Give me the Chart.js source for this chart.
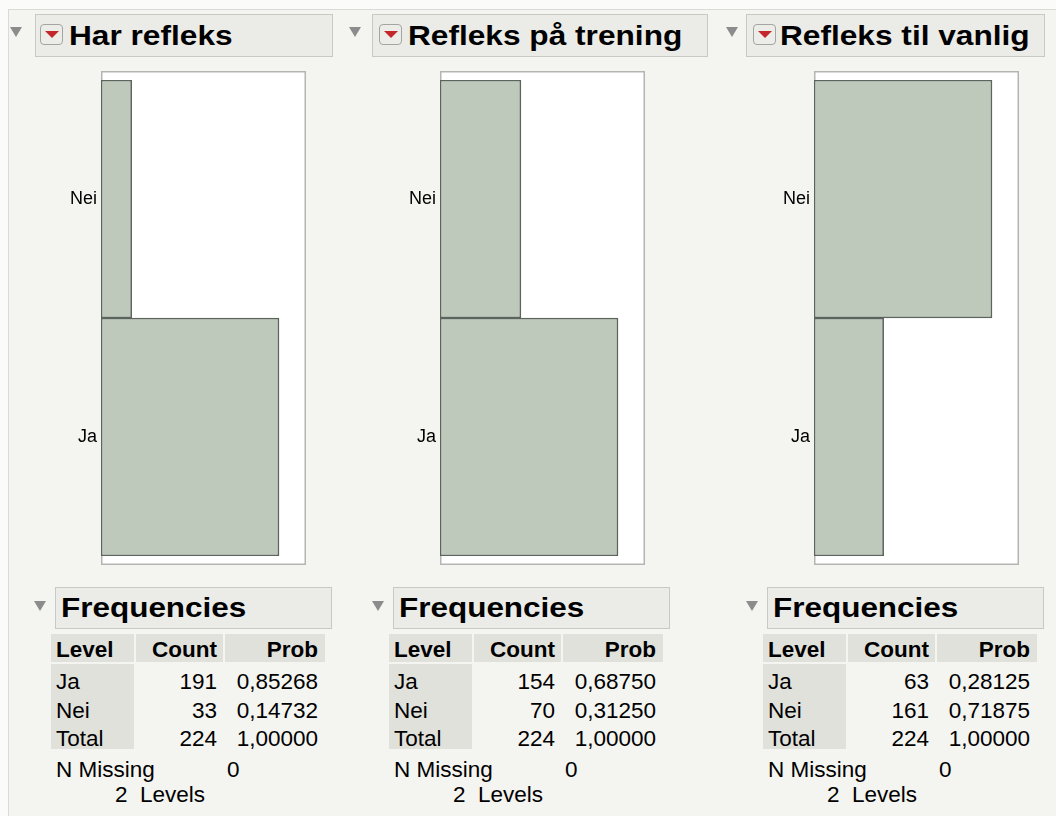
<!DOCTYPE html>
<html>
<head>
<meta charset="utf-8">
<script src="https://cdn.jsdelivr.net/npm/chart.js@4/dist/chart.umd.min.js"></script>
<style>
  html, body { margin: 0; padding: 0; }
  body { width: 1056px; height: 816px; background: #fbfbfa; position: relative; overflow: hidden;
         font-family: "Liberation Sans", Arial, Helvetica, sans-serif; color: #000; }
  .tri { position: absolute; width: 0; height: 0; border-left: 6px solid transparent;
         border-right: 6px solid transparent; border-top: 10px solid #8c8c8c; }
  .hbox { position: absolute; background: #ebebe7; border: 1.5px solid #c9c9c4; box-sizing: border-box; }
  .icon { position: absolute; width: 23px; height: 21px; box-sizing: border-box; border: 1px solid #a4a4a0;
          border-radius: 4px; background: #ecece9; }
  .icon::after { content: ""; position: absolute; left: 3.5px; top: 6px; width: 0; height: 0;
          border-left: 7.5px solid transparent; border-right: 7.5px solid transparent; border-top: 7px solid #c3262b; }
  .cell { position: absolute; background: #e1e1dc; }
  .t { position: absolute; white-space: pre; }
  canvas { position: absolute; }
</style>
</head>
<body>
<script>
// ---------- data ----------
const titles = ['Har refleks', 'Refleks på trening', 'Refleks til vanlig'];
const categories = ['Nei', 'Ja'];              // top to bottom in the bar charts
const harRefleks = [33, 191];                   // Nei, Ja
const refleksTrening = [70, 154];               // Nei, Ja
const refleksVanlig = [161, 63];                // Nei, Ja
const tableLevels = ['Ja', 'Nei', 'Total'];
const tableHeader = ['Level', 'Count', 'Prob'];
const nMissing = [0, 0, 0];
const nLevels = [2, 2, 2];
const seriesList = [harRefleks, refleksTrening, refleksVanlig];

// ---------- layout ----------
const FONT = '"Liberation Sans", Arial, Helvetica, sans-serif';
const ASC = 0.905, DESC = 0.212;
const root = document.body;

function el(cls, style) {
  const d = document.createElement('div');
  d.className = cls;
  Object.assign(d.style, style);
  root.appendChild(d);
  return d;
}
// place text by baseline; align 'left' uses x as left edge, 'right' uses x as right edge
function txt(str, x, baseline, fs, opt = {}) {
  const d = document.createElement('div');
  d.className = 't';
  const lh = (ASC + DESC) * fs;
  d.style.top = (baseline - ASC * fs) + 'px';
  d.style.lineHeight = lh + 'px';
  d.style.fontSize = fs + 'px';
  d.style.fontWeight = opt.bold ? 'bold' : 'normal';
  if (opt.align === 'right') {
    d.style.left = (x - 400) + 'px';
    d.style.width = '400px';
    d.style.textAlign = 'right';
  } else {
    d.style.left = x + 'px';
  }
  if (opt.scaleX) {
    const s = document.createElement('span');
    s.textContent = str;
    s.style.display = 'inline-block';
    s.style.transform = 'scaleX(' + opt.scaleX + ')';
    s.style.transformOrigin = '0 0';
    d.appendChild(s);
  } else {
    d.textContent = str;
  }
  root.appendChild(d);
  return d;
}

el('', {position: 'absolute', left: '8px', top: '9px', right: '0', bottom: '0', background: '#f4f4f0',
        borderLeft: '1px solid #dadad6', borderTop: '1px solid #dadad6'});

const triX = [10, 349, 726];
const boxX = [[35, 333], [372, 708], [746, 1045]];
const iconX = [40, 379, 753];
const titleX = [69, 408, 780];
const frameX = [101, 440, 814];
const tableL = [51, 389, 763];

const FRAME_W = 205, FRAME_TOP = 71, FRAME_H = 494, LABEL_W = 60, PAD = 9;
const AXIS_FACTOR = 205 / 178;

const framePlugin = {
  id: 'frame',
  beforeDatasetsDraw(chart) {
    const a = chart.chartArea, c = chart.ctx;
    c.save();
    c.fillStyle = '#ffffff';
    c.fillRect(a.left, a.top - PAD, a.right - a.left, a.bottom - a.top + 2 * PAD);
    c.strokeStyle = '#b5b5b3';
    c.lineWidth = 1.5;
    c.strokeRect(a.left + 0.75, a.top - PAD + 0.75, a.right - a.left - 1.5, a.bottom - a.top + 2 * PAD - 1.5);
    c.restore();
  }
};

for (let p = 0; p < 3; p++) {
  const data = seriesList[p];
  // title header
  el('tri', {left: triX[p] + 'px', top: '27px'});
  el('hbox', {left: boxX[p][0] + 'px', top: '14px', width: (boxX[p][1] - boxX[p][0]) + 'px', height: '43px'});
  el('icon', {left: iconX[p] + 'px', top: '24px'});
  txt(titles[p], titleX[p], 45, 28, {bold: true, scaleX: 1.13});

  // chart
  const cv = document.createElement('canvas');
  cv.width = LABEL_W + FRAME_W; cv.height = FRAME_H;
  cv.style.left = (frameX[p] - LABEL_W) + 'px';
  cv.style.top = FRAME_TOP + 'px';
  cv.style.width = cv.width + 'px'; cv.style.height = cv.height + 'px';
  root.appendChild(cv);
  new Chart(cv, {
    type: 'bar',
    data: {
      labels: categories,
      datasets: [{
        data: data,
        backgroundColor: '#bec9bc',
        borderColor: '#5d645d',
        borderWidth: 1.5,
        borderSkipped: false,
        categoryPercentage: 1,
        barPercentage: 1
      }]
    },
    options: {
      indexAxis: 'y',
      responsive: false,
      animation: false,
      devicePixelRatio: 1,
      layout: {padding: {top: PAD, bottom: PAD, left: 0, right: 0}},
      plugins: {legend: {display: false}, tooltip: {enabled: false}},
      scales: {
        x: {display: false, min: 0, max: Math.max(...data) * AXIS_FACTOR},
        y: {
          grid: {display: false, drawTicks: false},
          border: {display: false},
          ticks: {color: '#000', font: {family: FONT, size: 18}, padding: 4},
          afterFit(scale) {
            scale.width = LABEL_W;
            scale.paddingTop = 0; scale.paddingBottom = 0;
          }
        }
      }
    },
    plugins: [framePlugin]
  });

  // frequencies
  const L = tableL[p];
  el('tri', {left: (L - 17) + 'px', top: '601px'});
  el('hbox', {left: (L + 4) + 'px', top: '587px', width: '277px', height: '42px'});
  txt('Frequencies', L + 10, 617, 27, {bold: true, scaleX: 1.165});

  el('cell', {left: L + 'px', top: '634px', width: '83px', height: '28px'});
  el('cell', {left: (L + 85) + 'px', top: '634px', width: '87px', height: '28px'});
  el('cell', {left: (L + 174) + 'px', top: '634px', width: '100px', height: '28px'});
  el('cell', {left: L + 'px', top: '664px', width: '83px', height: '85px'});

  const FS = 22.5;
  txt(tableHeader[0], L + 5, 657, FS, {bold: true});
  txt(tableHeader[1], L + 166, 657, FS, {bold: true, align: 'right'});
  txt(tableHeader[2], L + 267, 657, FS, {bold: true, align: 'right'});

  // table rows in order Ja, Nei, Total
  const jaCount = data[categories.indexOf('Ja')];
  const neiCount = data[categories.indexOf('Nei')];
  const total = jaCount + neiCount;
  const counts = [jaCount, neiCount, total];
  const baselines = [689, 718, 746];
  for (let r = 0; r < 3; r++) {
    txt(tableLevels[r], L + 5, baselines[r], FS);
    txt(String(counts[r]), L + 166, baselines[r], FS, {align: 'right'});
    txt((counts[r] / total).toFixed(5).replace('.', ','), L + 267, baselines[r], FS, {align: 'right'});
  }
  txt('N Missing', L + 5, 777, FS);
  txt(String(nMissing[p]), L + 176, 777, FS);
  txt(nLevels[p] + '  Levels', L + 64, 802, FS);
}
</script>
</body>
</html>
